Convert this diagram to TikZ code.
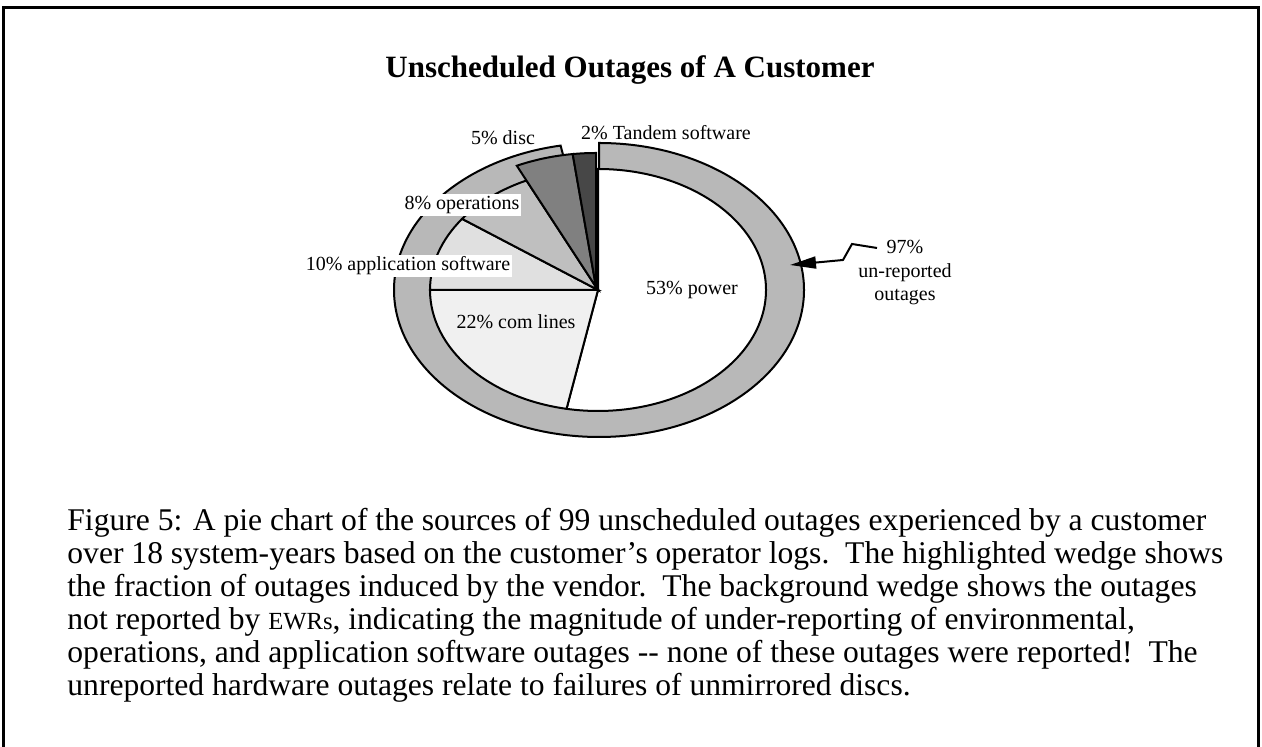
\documentclass[tikz,border=0pt]{standalone}
\usepackage{fontspec}
\setmainfont{Liberation Serif}
\usetikzlibrary{arrows.meta, positioning}

\tikzset{
  wedge/.style={draw=black, line width=1pt, line join=miter},
  lbl/.style={font=\fontsize{10}{11.75}\selectfont, inner sep=1pt},
}

\begin{document}
\begin{tikzpicture}[x=0.5pt, y=0.5pt]
  \useasboundingbox (0,0) rectangle (1262,747);
  % Frame
  \draw[line width=1.5pt] (3,-20) -- (3,739) -- (1258,739) -- (1258,-20);

  % Title
  \node[anchor=base, font=\bfseries\fontsize{15.5}{18}\selectfont] (title) at (630,669) {Unscheduled Outages of A Customer};

  % Centres
  \coordinate (c) at (598,457);
  \coordinate (rc) at (599,457);
  \coordinate (hc) at (596,460);

  % Background wedge: un-reported
  \filldraw[wedge, fill=black!28] (rc) -- ++(90:205 and 147)
    arc[start angle=90, end angle=-259.2, x radius=205, y radius=147] -- cycle;

  % Pie
  \filldraw[wedge, fill=white] (c) -- ++(90:168 and 121)
    arc[start angle=90, end angle=-100.8, x radius=168, y radius=121] -- cycle;
  \filldraw[wedge, fill=black!6] (c) -- ++(-100.8:168 and 121)
    arc[start angle=-100.8, end angle=-180, x radius=168, y radius=121] -- cycle;
  \filldraw[wedge, fill=black!12] (c) -- ++(180:168 and 121)
    arc[start angle=180, end angle=144, x radius=168, y radius=121] -- cycle;
  \filldraw[wedge, fill=black!25] (c) -- ++(144:168 and 121)
    arc[start angle=144, end angle=115.2, x radius=168, y radius=121] -- cycle;
  % Highlighted wedges: vendor
  \filldraw[wedge, fill=black!50] (hc) -- ++(115.2:186 and 134)
    arc[start angle=115.2, end angle=97.2, x radius=186, y radius=134] -- cycle;
  \filldraw[wedge, fill=black!72] (hc) -- ++(97.2:186 and 134)
    arc[start angle=97.2, end angle=90, x radius=186, y radius=134] -- cycle;

  % Labels
  \node[lbl] (disc) at (503,609) {5\% disc};
  \node[lbl] (tandem) at (666,614) {2\% Tandem software};
  \node[lbl, fill=white] (oper) at (462,542) {8\% operations};
  \node[lbl, fill=white] (appl) at (408,481) {10\% application software};
  \node[lbl] (com) at (516,425) {22\% com lines};
  \node[lbl] (power) at (692,457) {53\% power};
  \node[lbl, align=center] (unrep) at (905,474) {97\%\\un-reported\\outages};

  % Callout
  \coordinate (z1) at (877,499);
  \coordinate (z2) at (852,503);
  \coordinate (z3) at (843,487);
  \coordinate (tip) at (790,482);
  \draw[line width=1pt, -{Triangle[length=13pt, width=6pt]}] (z1) -- (z2) -- (z3) -- (tip);

  % Caption
  \node[anchor=north west, align=left, inner sep=0pt, font=\fontsize{15.8}{16.5}\selectfont] (caption) at (67,239)
    {Figure 5: A pie chart of the sources of 99 unscheduled outages experienced by a customer\\
     over 18 system-years based on the customer's operator logs.\ \ The highlighted wedge shows\\
     the fraction of outages induced by the vendor.\ \ The background wedge shows the outages\\
     not reported by {\fontsize{12.3}{14}\selectfont EWRs}, indicating the magnitude of under-reporting of environmental,\\
     operations, and application software outages -{}- none of these outages were reported!\ \ The\\
     unreported hardware outages relate to failures of unmirrored discs.};
\end{tikzpicture}
\end{document}
